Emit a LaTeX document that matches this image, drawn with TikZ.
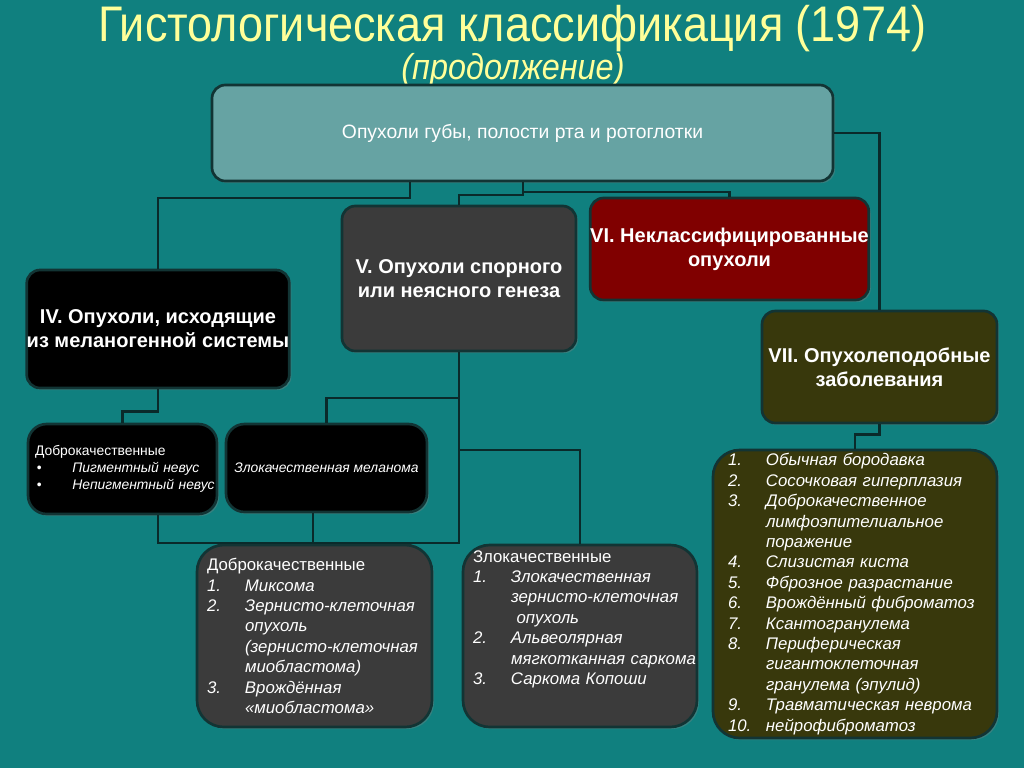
\documentclass[tikz,border=0pt]{standalone}
\usepackage{fontspec}
\setmainfont{Liberation Sans}
\newfontfamily\titlefont[FakeStretch=0.9]{Liberation Sans}
\usetikzlibrary{positioning,shadows,calc}
\definecolor{histbg}{HTML}{10807F}
\definecolor{histline}{HTML}{0A2A2A}
\definecolor{histedge}{HTML}{123434}
\definecolor{histtop}{HTML}{66A3A3}
\definecolor{histgray}{HTML}{3B3B3B}
\definecolor{histred}{HTML}{800000}
\definecolor{histolive}{HTML}{38380C}
\definecolor{histtitle}{HTML}{FFFF99}
\tikzset{
  box/.style={draw=histedge, line width=2pt, rounded corners=10pt, text=white, align=center, inner sep=0pt,
    drop shadow={opacity=0.35, shadow xshift=1.5pt, shadow yshift=-1.5pt}},
  headbox/.style={box, font=\fontsize{15}{18}\selectfont\bfseries},
  smallbox/.style={box, fill=black, rounded corners=14pt, font=\fontsize{10.4}{12.75}\selectfont},
  listbox/.style={box, fill=histgray, rounded corners=20pt, align=left, inner xsep=7.5pt,
    font=\fontsize{12.6}{15.3}\selectfont},
  conn/.style={draw=histline, line width=2pt},
  titletext/.style={inner sep=0pt, text=histtitle},
}
\newcommand{\lnum}[2]{\mbox{\makebox[28.5pt][l]{\itshape #1}\textit{#2}}}
\newcommand{\lcont}[1]{\mbox{\hspace*{28.5pt}\textit{#1}}}

\begin{document}
\begin{tikzpicture}[x=0.75pt, y=-0.75pt]
\fill[histbg] (0,0) rectangle (1024,768);
\useasboundingbox (0,0) rectangle (1024,768);

% title
\node[titletext, font=\titlefont\fontsize{37.5}{40}\selectfont] (title) at (512,29) {Гистологическая классификация (1974)};
\node[titletext, font=\titlefont\fontsize{27}{30}\selectfont\itshape] (subtitle) at (513,70) {(продолжение)};

% main boxes
\node[box, fill=histtop, minimum width=465.75pt, minimum height=72pt, font=\fontsize{14.5}{17}\selectfont] (top) at (522.5,133) {Опухоли губы, полости рта и ротоглотки};
\node[headbox, fill=black, minimum width=196.5pt, minimum height=88.5pt] (melan) at (158,329) {IV. Опухоли, исходящие\\из меланогенной системы};
\node[headbox, fill=histgray, minimum width=175.5pt, minimum height=108.75pt] (unclear) at (459,278.5) {V. Опухоли спорного\\или неясного генеза};
\node[headbox, fill=histred, minimum width=206.25pt, minimum height=76.5pt] (unclass) at (729.5,249) {VI. Неклассифицированные\\опухоли};
\node[headbox, fill=histolive, minimum width=176.25pt, minimum height=84pt] (tumlike) at (879.5,367) {VII. Опухолеподобные\\заболевания};

% melanogenic
\node[smallbox, align=left, inner xsep=5.25pt, text width=131.25pt, minimum height=67.5pt] (melbenign) at (122.5,469) {Доброкачественные\\
  \mbox{\hspace*{1.5pt}\makebox[26.5pt][l]{•}\textit{Пигментный невус}}\\
  \mbox{\hspace*{1.5pt}\makebox[26.5pt][l]{•}\textit{Непигментный невус}}};
\node[smallbox, minimum width=150.75pt, minimum height=66pt] (melmalign) at (326.5,468) {\textit{Злокачественная меланома}};

% lists
\node[listbox, text width=161.25pt, minimum height=136.5pt] (vbenign) at (314.5,636) {Доброкачественные\\
  \lnum{1.}{Миксома}\\
  \lnum{2.}{Зернисто-клеточная}\\
  \lcont{опухоль}\\
  \lcont{(зернисто-клеточная}\\
  \lcont{миобластома)}\\
  \lnum{3.}{Врождённая}\\
  \lcont{«миобластома»}};
\node[listbox, text width=160.5pt, minimum height=136.5pt] (vmalign) at (580,636) {Злокачественные\\
  \lnum{1.}{Злокачественная}\\
  \lcont{зернисто-клеточная}\\
  \lcont{\ опухоль}\\
  \lnum{2.}{Альвеолярная}\\
  \lcont{мягкотканная саркома}\\
  \lnum{3.}{Саркома Копоши}\rule[-28pt]{0pt}{0pt}};
\node[listbox, fill=histolive, inner xsep=11.25pt, text width=190.5pt, minimum height=216pt] (tlist) at (855,594) {\lnum{1.}{Обычная бородавка}\\
  \lnum{2.}{Сосочковая гиперплазия}\\
  \lnum{3.}{Доброкачественное}\\
  \lcont{лимфоэпителиальное}\\
  \lcont{поражение}\\
  \lnum{4.}{Слизистая киста}\\
  \lnum{5.}{Фброзное разрастание}\\
  \lnum{6.}{Врождённый фиброматоз}\\
  \lnum{7.}{Ксантогранулема}\\
  \lnum{8.}{Периферическая}\\
  \lcont{гигантоклеточная}\\
  \lcont{гранулема (эпулид)}\\
  \lnum{9.}{Травматическая неврома}\\
  \lnum{10.}{нейрофиброматоз}};

% connectors
\draw[conn] (410,0 |- top.south) -- (410,198) -| (melan.north);
\draw[conn] (523,0 |- top.south) -- (523,195) -| (unclear.north);
\draw[conn] (523,0 |- top.south) -- (523,192) -| (unclass.north);
\draw[conn] (top.east) -| (tumlike.north);
\draw[conn] (melan.south) -- ++(0,22) -| (melbenign.north);
\draw[conn] (unclear.south) -- (unclear.south |- 0,543) -| (158,0 |- melbenign.south);
\draw[conn] (313,0 |- melmalign.south) -- (313,543);
\draw[conn] (unclear.south |- 0,398) -| (melmalign.north);
\draw[conn] (unclear.south |- 0,450) -| (vmalign.north);
\draw[conn] (tumlike.south) -- ++(0,10) -| (tlist.north);
\end{tikzpicture}
\end{document}
